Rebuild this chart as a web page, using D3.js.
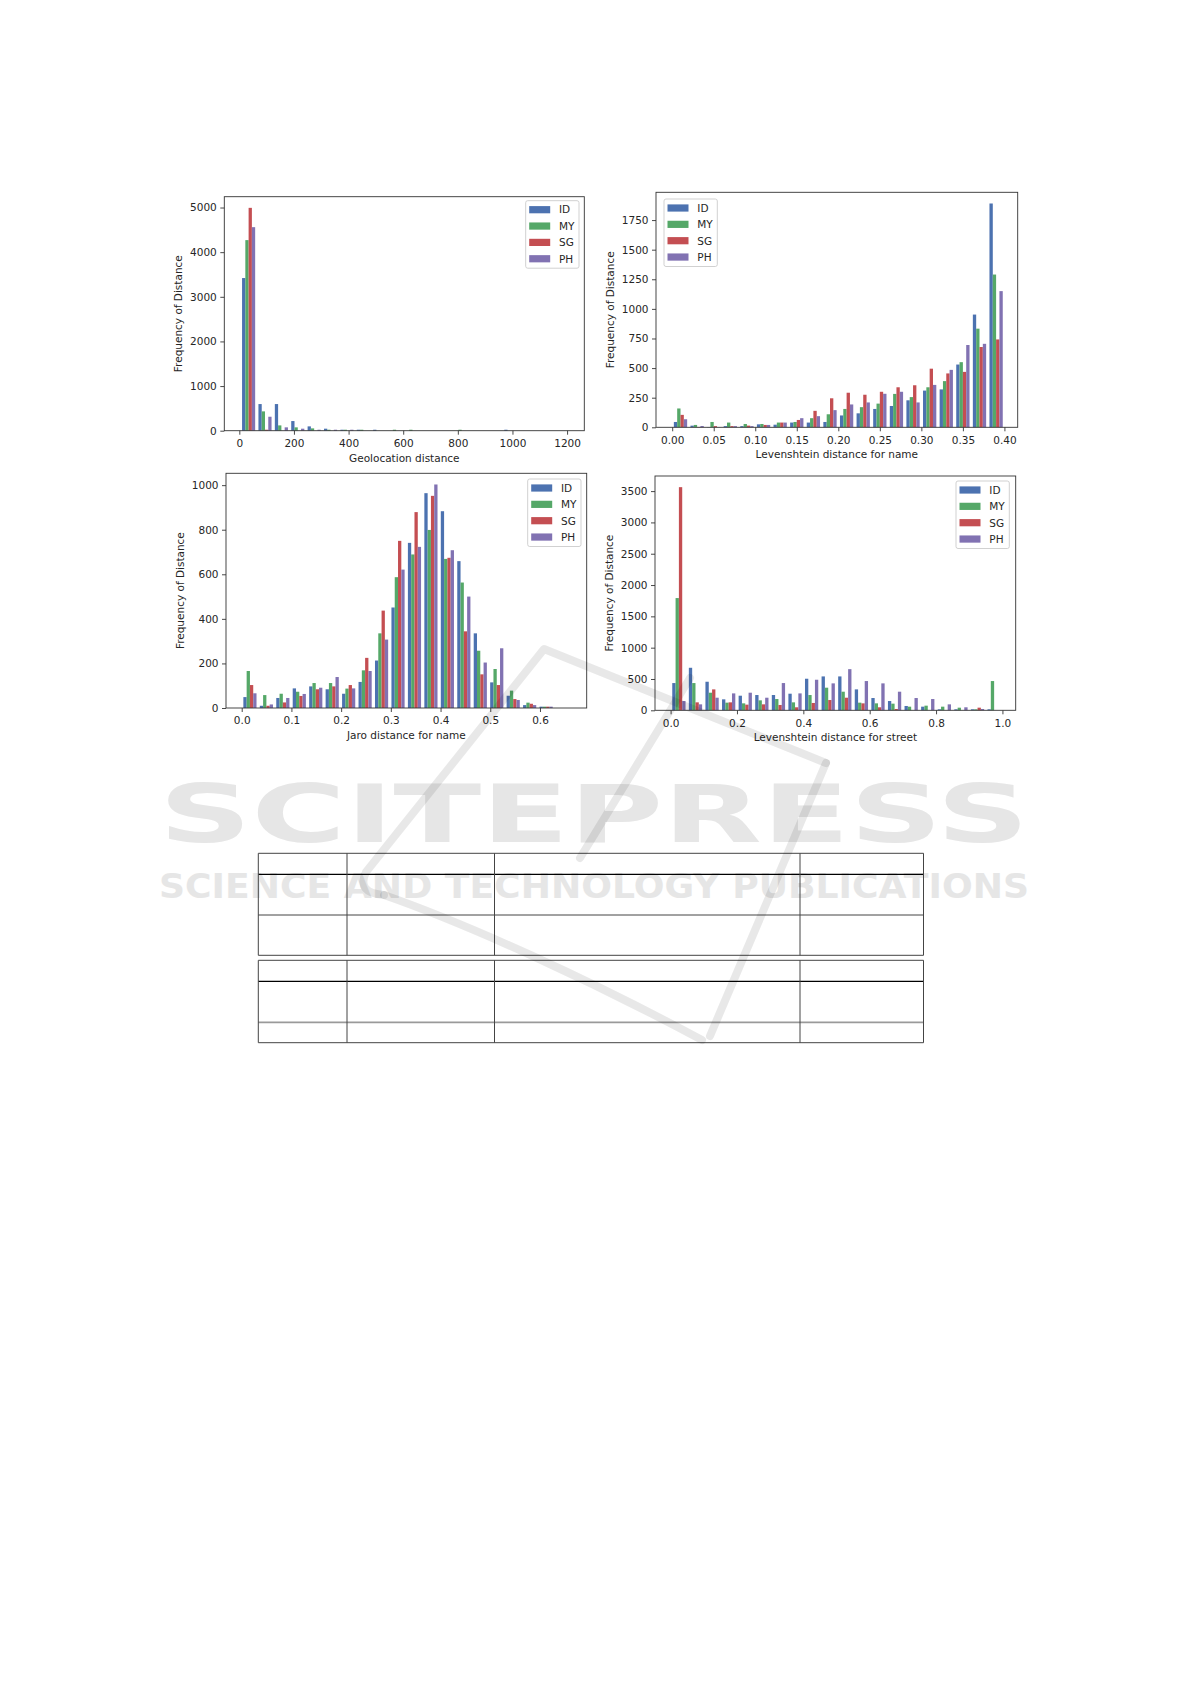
<!DOCTYPE html>
<html><head><meta charset="utf-8">
<script src="https://cdn.jsdelivr.net/npm/d3@7"></script>
<style>
body{margin:0;background:#fff;}
svg{display:block;}
text{font-family:"DejaVu Sans",sans-serif;}
</style>
</head><body>
<svg id="page" width="1191" height="1684"></svg>
<script>
// ---------------- DATA ----------------
const seriesNames = ["ID", "MY", "SG", "PH"];
const seriesColors = ["#4C72B0", "#55A868", "#C44E52", "#8172B2"];

// Chart 1: Geolocation distance (20 bins, width 60, starting at 4)
const geoBinStart = 4, geoBinWidth = 60;
const geoID = [3420, 597, 597, 216, 97, 45, 22, 22, 22, 0, 0, 0, 0, 0, 0, 0, 22, 0, 0, 0];
const geoMY = [4270, 433, 119, 75, 52, 22, 22, 22, 0, 22, 22, 0, 0, 22, 0, 0, 0, 0, 0, 0];
const geoSG = [4993, 22, 0, 0, 0, 0, 0, 0, 0, 0, 0, 0, 0, 0, 0, 0, 0, 0, 0, 0];
const geoPH = [4560, 313, 75, 45, 22, 22, 22, 0, 0, 0, 0, 0, 0, 0, 0, 0, 0, 0, 0, 0];
const geoXTicks = [0, 200, 400, 600, 800, 1000, 1200];
const geoYTicks = [0, 1000, 2000, 3000, 4000, 5000];

// Chart 2: Levenshtein distance for name (20 bins, width 0.02)
const levBinStart = 0, levBinWidth = 0.02;
const levID = [45, 14, 2, 10, 10, 25, 22, 40, 40, 45, 100, 118, 155, 180, 228, 310, 320, 530, 952, 1890];
const levMY = [159, 20, 45, 40, 28, 28, 40, 45, 77, 110, 155, 170, 200, 282, 255, 338, 390, 550, 833, 1290];
const levSG = [105, 3, 10, 10, 14, 20, 40, 62, 139, 245, 292, 275, 300, 338, 355, 495, 455, 468, 678, 742];
const levPH = [68, 11, 2, 10, 10, 20, 40, 77, 94, 145, 193, 210, 283, 300, 210, 358, 485, 695, 705, 1150];
const levXTicks = [0, 0.05, 0.10, 0.15, 0.20, 0.25, 0.30, 0.35, 0.40];
const levYTicks = [0, 250, 500, 750, 1000, 1250, 1500, 1750];

// Chart 3: Jaro distance for name (20 bins, width 0.0331)
const jaroBinStart = 0, jaroBinWidth = 0.0331;
const jaroID = [49, 10, 45, 88, 97, 84, 64, 117, 213, 451, 741, 964, 883, 659, 335, 115, 55, 13, 6, 0];
const jaroMY = [166, 58, 64, 73, 112, 112, 87, 169, 335, 587, 689, 799, 669, 563, 257, 175, 78, 24, 6, 0];
const jaroSG = [103, 10, 25, 54, 84, 97, 103, 225, 437, 750, 879, 952, 674, 344, 151, 103, 40, 19, 6, 0];
const jaroPH = [66, 16, 45, 63, 91, 139, 88, 166, 307, 621, 723, 1003, 708, 500, 204, 268, 36, 13, 6, 0];
const jaroXTicks = [0, 0.1, 0.2, 0.3, 0.4, 0.5, 0.6];
const jaroYTicks = [0, 200, 400, 600, 800, 1000];

// Chart 4: Levenshtein distance for street (20 bins, width 0.05)
const strBinStart = 0, strBinWidth = 0.05;
const strID = [435, 679, 456, 175, 233, 244, 244, 265, 504, 541, 541, 334, 196, 148, 69, 58, 16, 16, 16, 16];
const strMY = [1792, 435, 281, 122, 111, 159, 180, 127, 244, 361, 297, 122, 111, 106, 58, 74, 58, 42, 16, 467];
const strSG = [3563, 127, 334, 127, 90, 95, 85, 48, 117, 164, 201, 111, 48, 21, 0, 0, 0, 0, 42, 0];
const strPH = [148, 95, 201, 270, 281, 201, 435, 270, 488, 430, 657, 467, 430, 297, 196, 180, 95, 48, 21, 0];
const strXTicks = [0, 0.2, 0.4, 0.6, 0.8, 1.0];
const strYTicks = [0, 500, 1000, 1500, 2000, 2500, 3000, 3500];

const yLabel = "Frequency of Distance";

// ---------------- LAYOUT ----------------
const charts = [
  {series: [geoID, geoMY, geoSG, geoPH], binStart: geoBinStart, binWidth: geoBinWidth,
   xTicks: geoXTicks, yTicks: geoYTicks, fmt: d3.format("d"), xLabel: "Geolocation distance",
   xDomain: [-55, 1263], frame: [224.3, 196.7, 584.3, 430.7], legend: [525.7, 200.7]},
  {series: [levID, levMY, levSG, levPH], binStart: levBinStart, binWidth: levBinWidth,
   xTicks: levXTicks, yTicks: levYTicks, fmt: d3.format(".2f"), xLabel: "Levenshtein distance for name",
   xDomain: [-0.0195, 0.416], frame: [656, 192.3, 1017.7, 427.3], legend: [664, 199]},
  {series: [jaroID, jaroMY, jaroSG, jaroPH], binStart: jaroBinStart, binWidth: jaroBinWidth,
   xTicks: jaroXTicks, yTicks: jaroYTicks, fmt: d3.format(".1f"), xLabel: "Jaro distance for name",
   xDomain: [-0.0316, 0.694], frame: [226, 473.3, 586.7, 708], legend: [527.7, 479]},
  {series: [strID, strMY, strSG, strPH], binStart: strBinStart, binWidth: strBinWidth,
   xTicks: strXTicks, yTicks: strYTicks, fmt: d3.format(".1f"), xLabel: "Levenshtein distance for street",
   xDomain: [-0.047, 1.040], frame: [655, 476, 1015.7, 710.3], legend: [956, 481]}
];

const svg = d3.select("#page");
const FS = 10.5;
const textColor = "#262626";

// ---------------- WATERMARK TEXT (behind) ----------------
const wm = svg.append("g");
wm.append("text").attr("x", 159).attr("y", 842).attr("textLength", 870)
  .attr("lengthAdjust", "spacingAndGlyphs").attr("font-size", 80).attr("font-weight", "bold")
  .attr("fill", "#e6e6e6").text("SCITEPRESS");
wm.append("text").attr("x", 159).attr("y", 898).attr("textLength", 870)
  .attr("lengthAdjust", "spacingAndGlyphs").attr("font-size", 34).attr("font-weight", "bold")
  .attr("fill", "#e6e6e6").text("SCIENCE AND TECHNOLOGY PUBLICATIONS");

// ---------------- CHARTS ----------------
charts.forEach(cfg => {
  const [L, T, R, B] = cfg.frame;
  const g = svg.append("g");
  const x = d3.scaleLinear().domain(cfg.xDomain).range([L, R]);
  const maxV = d3.max(cfg.series, s => d3.max(s));
  const y = d3.scaleLinear().domain([0, maxV * 1.05]).range([B, T]);
  const bw = cfg.binWidth, n = cfg.series.length;
  const barW = bw * 0.8 / n;

  cfg.series.forEach((vals, si) => {
    const recs = vals.map((v, i) => ({v, x0: cfg.binStart + i * bw + 0.1 * bw + si * barW}));
    g.append("g").selectAll("rect").data(recs.filter(d => d.v > 0)).join("rect")
      .attr("x", d => x(d.x0))
      .attr("width", d => x(d.x0 + barW) - x(d.x0))
      .attr("y", d => y(d.v))
      .attr("height", d => y(0) - y(d.v))
      .attr("fill", seriesColors[si]);
  });

  // axes
  const xa = g.append("g").attr("transform", `translate(0,${B})`)
    .call(d3.axisBottom(x).tickValues(cfg.xTicks).tickFormat(cfg.fmt).tickSize(4).tickPadding(5));
  const ya = g.append("g").attr("transform", `translate(${L},0)`)
    .call(d3.axisLeft(y).tickValues(cfg.yTicks).tickFormat(d3.format("d")).tickSize(4).tickPadding(3.5));
  [xa, ya].forEach(a => {
    a.select(".domain").remove();
    a.selectAll("line").attr("stroke", "#333").attr("stroke-width", 0.9);
    a.selectAll("text").attr("font-size", FS).attr("fill", textColor)
      .attr("font-family", "DejaVu Sans, sans-serif");
  });

  // frame
  g.append("rect").attr("x", L).attr("y", T).attr("width", R - L).attr("height", B - T)
    .attr("fill", "none").attr("stroke", "#333").attr("stroke-width", 0.9);

  // labels
  g.append("text").attr("x", (L + R) / 2).attr("y", B + 31).attr("text-anchor", "middle")
    .attr("font-size", FS).attr("fill", textColor).text(cfg.xLabel);
  g.append("text").attr("transform", `translate(${L - 42.5},${(T + B) / 2}) rotate(-90)`)
    .attr("text-anchor", "middle").attr("font-size", FS).attr("fill", textColor).text(yLabel);

  // legend
  const [lx, ly] = cfg.legend;
  const lg = g.append("g").attr("transform", `translate(${lx},${ly})`);
  lg.append("rect").attr("x", 0).attr("y", 0).attr("width", 53.3).attr("height", 67.5)
    .attr("rx", 2).attr("fill", "#fff").attr("fill-opacity", 0.8)
    .attr("stroke", "#cccccc").attr("stroke-width", 0.9);
  seriesNames.forEach((name, i) => {
    const cy = 9 + i * 16.35;
    lg.append("rect").attr("x", 3.5).attr("y", cy - 3.6).attr("width", 21).attr("height", 7.2)
      .attr("fill", seriesColors[i]);
    lg.append("text").attr("x", 33.3).attr("y", cy + 3.8).attr("font-size", FS)
      .attr("fill", textColor).text(name);
  });
});

// ---------------- TABLE LINES ----------------
const tb = svg.append("g");
const colX = [258.3, 347, 494.5, 800, 923.5];
const tables = [
  {rows: [853.3, 874.3, 915, 955.3], heavy: [874.3], grey: []},
  {rows: [960.3, 981.3, 1022.3, 1042.7], heavy: [981.3], grey: [1022.3]}
];
tables.forEach(t => {
  t.rows.forEach(ry => {
    const heavy = t.heavy.includes(ry), grey = t.grey.includes(ry);
    tb.append("line").attr("x1", colX[0]).attr("x2", colX[4]).attr("y1", ry).attr("y2", ry)
      .attr("stroke", grey ? "#9a9a9a" : (heavy ? "#000" : "#444"))
      .attr("stroke-width", grey ? 1.8 : (heavy ? 1.3 : 1));
  });
  colX.forEach(cx => {
    tb.append("line").attr("x1", cx).attr("x2", cx).attr("y1", t.rows[0]).attr("y2", t.rows[t.rows.length - 1])
      .attr("stroke", "#444").attr("stroke-width", 1);
  });
});

// ---------------- WATERMARK LOGO (translucent, on top) ----------------
const logo = svg.append("g").attr("fill", "none").attr("stroke", "rgba(0,0,0,0.09)")
  .attr("stroke-width", 8).attr("stroke-linejoin", "round").attr("stroke-linecap", "round");
logo.append("path").attr("d", "M826,763 L544,649 L366,872 Q356,893 384,895");
logo.append("path").attr("d", "M384,895 C470,925 590,980 702,1040");
logo.append("path").attr("d", "M826,763 L710,1036");
logo.append("path").attr("d", "M690,678 L580,858");
</script>
</body></html>
